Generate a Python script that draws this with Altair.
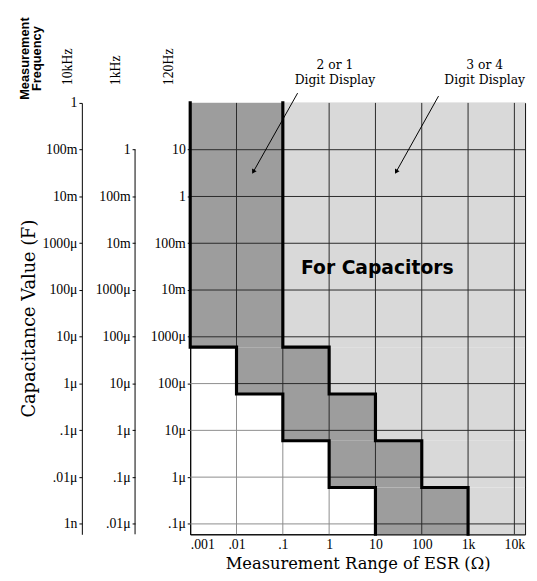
import altair as alt
import pandas as pd

# ---------------- data ----------------
esr_ticks = [0.001, 0.01, 0.1, 1, 10, 100, 1000, 10000]
esr_labels = [".001", ".01", ".1", "1", "10", "100", "1k", "10k"]
esr_domain = [0.001, 17000]

cap120_ticks = [10, 1, 0.1, 0.01, 1e-3, 1e-4, 1e-5, 1e-6, 1e-7]
cap120_labels = ["10", "1", "100m", "10m", "1000μ", "100μ", "10μ", "1μ", ".1μ"]
cap1k_ticks = [1, 0.1, 0.01, 1e-3, 1e-4, 1e-5, 1e-6, 1e-7, 1e-8]
cap1k_labels = ["1", "100m", "10m", "1000μ", "100μ", "10μ", "1μ", ".1μ", ".01μ"]
cap10k_ticks = [1, 0.1, 0.01, 1e-3, 1e-4, 1e-5, 1e-6, 1e-7, 1e-8, 1e-9]
cap10k_labels = ["1", "100m", "10m", "1000μ", "100μ", "10μ", "1μ", ".1μ", ".01μ", "1n"]
cap120_domain = [6e-8, 100]
cap1k_domain = [6e-9, 10]
cap10k_domain = [6e-10, 1]

# staircase rows (capacitance in 120 Hz units) and ESR edges of the bands
row_top = [100, 6e-4, 6e-5, 6e-6, 6e-7]
row_bot = [6e-4, 6e-5, 6e-6, 6e-7, 6e-8]
low_x = [0.001, 0.01, 0.1, 1, 10]      # start of "2 or 1 digit" band per row
high_x = [0.1, 1, 10, 100, 1000]       # start of "3 or 4 digit" band per row

# annotation leader lines (ESR, capacitance @120Hz)
arrow_x1 = [0.2085, 230]
arrow_y1 = [162, 140]
arrow_x2 = [0.023, 28]
arrow_y2 = [3.36, 3.36]

# fills / line tones
DARK_FILL = "#9d9d9d"
LIGHT_FILL = "#d9d9d9"
GRID_WHITE = "#8c8c8c"
GRID_SHADE = "#2a2a2a"


# ---------------- helpers ----------------
def label_expr(ticks, labels):
    pairs = sorted(zip(ticks, labels), key=lambda p: p[0])
    chain = "''"
    for t, l in pairs:  # ascending, so the largest tick ends up outermost
        chain = f"(datum.value > {t / 3!r} ? '{l}' : {chain})"
    return chain


SERIF = "Liberation Serif"
SERIF2 = "DejaVu Serif"

xs = alt.Scale(type="log", domain=esr_domain, nice=False)
ys = alt.Scale(type="log", domain=cap120_domain, nice=False)

x_axis = alt.Axis(
    values=esr_ticks, labelExpr=label_expr(esr_ticks, esr_labels), grid=False,
    ticks=False, domain=True, domainColor="black", labelFont=SERIF, labelFontSize=14,
    labelColor="black", labelPadding=3, labelFlush=True, labelOverlap=False,
    title="Measurement Range of ESR (Ω)", titleFont=SERIF2, titleFontSize=16.5,
    titleFontWeight="normal", titleColor="black", titlePadding=5,
)
y_axis = alt.Axis(
    orient="left", values=cap120_ticks, labelExpr=label_expr(cap120_ticks, cap120_labels),
    grid=False, ticks=True, tickSize=3, tickColor="black", domain=True, domainColor="black",
    labelFont=SERIF, labelFontSize=14, labelColor="black", labelPadding=2,
    labelOverlap=False, title=None,
)

# ---------------- bands ----------------
bands = pd.DataFrame({
    "x1": low_x + high_x,
    "x2": high_x + [esr_domain[1]] * len(high_x),
    "y1": row_bot + row_bot,
    "y2": row_top + row_top,
    "fill": [DARK_FILL] * 5 + [LIGHT_FILL] * 5,
})
rects = alt.Chart(bands).mark_rect(strokeWidth=0).encode(
    x=alt.X("x1:Q", scale=xs, axis=x_axis),
    x2="x2:Q",
    y=alt.Y("y1:Q", scale=ys, axis=y_axis),
    y2="y2:Q",
    fill=alt.Fill("fill:N", scale=None),
)

# ---------------- grid: gray in the white area, dark in the shaded bands ----------------
hseg = []
for t in cap120_ticks:
    i = next(k for k in range(len(row_top)) if row_bot[k] < t < row_top[k])
    hseg.append({"y": t, "xa": esr_domain[0], "xb": low_x[i], "tone": GRID_WHITE})
    hseg.append({"y": t, "xa": low_x[i], "xb": esr_domain[1], "tone": GRID_SHADE})
vseg = []
for s in esr_ticks[1:]:
    j = max(k for k in range(len(low_x)) if low_x[k] <= s)
    vseg.append({"x": s, "ya": cap120_domain[0], "yb": row_bot[j], "tone": GRID_WHITE})
    vseg.append({"x": s, "ya": row_bot[j], "yb": cap120_domain[1], "tone": GRID_SHADE})
hgrid = alt.Chart(pd.DataFrame(hseg)).mark_rule(strokeWidth=1).encode(
    y=alt.Y("y:Q", scale=ys), x=alt.X("xa:Q", scale=xs), x2="xb:Q",
    stroke=alt.Stroke("tone:N", scale=None))
vgrid = alt.Chart(pd.DataFrame(vseg)).mark_rule(strokeWidth=1).encode(
    x=alt.X("x:Q", scale=xs), y=alt.Y("ya:Q", scale=ys), y2="yb:Q",
    stroke=alt.Stroke("tone:N", scale=None))

# ---------------- staircase boundaries ----------------
pts = []
for name, edges in (("low", low_x), ("high", high_x)):
    k = 0
    for i in range(len(edges)):
        pts.append({"line": name, "o": k, "x": edges[i], "y": row_top[i]}); k += 1
        pts.append({"line": name, "o": k, "x": edges[i], "y": row_bot[i]}); k += 1
stairs = alt.Chart(pd.DataFrame(pts)).mark_line(
    color="black", strokeWidth=3.2, strokeJoin="miter", strokeCap="square").encode(
    x=alt.X("x:Q", scale=xs), y=alt.Y("y:Q", scale=ys), detail="line:N", order="o:Q")

# 1kHz axis line (starts at the 1kHz "1" row = 120Hz "10")
line1k = alt.Chart(pd.DataFrame({"a": [cap120_ticks[0]], "b": [cap120_domain[0]]})).mark_rule(
    color="black", strokeWidth=1).encode(x=alt.value(-56), y=alt.Y("a:Q", scale=ys), y2="b:Q")

# ---------------- leader arrows ----------------
arr = pd.DataFrame({"sx": arrow_x1, "sy": arrow_y1, "ex": arrow_x2, "ey": arrow_y2})
arrows = alt.Chart(arr).mark_rule(color="black", strokeWidth=1).encode(
    x=alt.X("sx:Q", scale=xs), y=alt.Y("sy:Q", scale=ys), x2="ex:Q", y2="ey:Q")
heads = alt.Chart(arr).mark_point(shape="triangle-up", filled=True, color="black", size=28,
                                  angle=209, opacity=1, strokeWidth=0).encode(
    x=alt.X("ex:Q", scale=xs), y=alt.Y("ey:Q", scale=ys))


# ---------------- texts ----------------
def txt(text, x, y, **kw):
    return alt.Chart().mark_text(text=text, **kw).encode(x=alt.value(x), y=alt.value(y))


texts = [
    txt(["Measurement", "Frequency"], -168, -45, angle=270, font="Liberation Sans",
        fontWeight="bold", fontSize=13, lineHeight=12, align="center", baseline="middle"),
    txt("10kHz", -124, -18, angle=270, font=SERIF, fontSize=14, align="left", baseline="middle"),
    txt("1kHz", -75, -18, angle=270, font=SERIF, fontSize=14, align="left", baseline="middle"),
    txt("120Hz", -21, -18, angle=270, font=SERIF, fontSize=14, align="left", baseline="middle"),
    txt("Capacitance Value (F)", -163, 219, angle=270, font=SERIF2, fontSize=18,
        align="center", baseline="middle"),
    txt("2 or 1", 147, -38, font=SERIF2, fontSize=12.5, align="center", baseline="middle"),
    txt("Digit Display", 147, -23, font=SERIF2, fontSize=12.5, align="center", baseline="middle"),
    txt("3 or 4", 299, -38, font=SERIF2, fontSize=12.5, align="center", baseline="middle"),
    txt("Digit Display", 299, -23, font=SERIF2, fontSize=12.5, align="center", baseline="middle"),
    txt("For Capacitors", 190, 168, font="DejaVu Sans", fontWeight="bold", fontSize=19,
        align="center", baseline="middle"),
]

main = alt.layer(rects, vgrid, hgrid, stairs, line1k, arrows, heads, *texts)

# ---------------- extra frequency axes ----------------
ax1k = alt.Chart(pd.DataFrame({"v": cap1k_ticks})).mark_rule(opacity=0).encode(
    y=alt.Y("v:Q", scale=alt.Scale(type="log", domain=cap1k_domain, nice=False),
            axis=alt.Axis(orient="left", offset=56, values=cap1k_ticks,
                          labelExpr=label_expr(cap1k_ticks, cap1k_labels), grid=False,
                          domain=False, ticks=True, tickSize=3, tickColor="black",
                          labelFont=SERIF, labelFontSize=14, labelColor="black",
                          labelPadding=2, labelOverlap=False, title=None)))
ax10k = alt.Chart(pd.DataFrame({"v": cap10k_ticks})).mark_rule(opacity=0).encode(
    y=alt.Y("v:Q", scale=alt.Scale(type="log", domain=cap10k_domain, nice=False),
            axis=alt.Axis(orient="left", offset=110, values=cap10k_ticks,
                          labelExpr=label_expr(cap10k_ticks, cap10k_labels), grid=False,
                          domain=True, domainColor="black", ticks=True, tickSize=3,
                          tickColor="black", labelFont=SERIF, labelFontSize=14,
                          labelColor="black", labelPadding=2, labelOverlap=False,
                          title=None)))

chart = alt.layer(main, ax1k, ax10k).resolve_scale(y="independent").properties(
    width=340, height=438,
    padding={"left": 185, "top": 92, "right": 4, "bottom": 40},
    autosize=alt.AutoSizeParams(type="none"),
    background="white",
).configure_view(stroke="black", strokeWidth=1)

chart.save("out.html", embed_options={"renderer": "svg", "actions": False})
